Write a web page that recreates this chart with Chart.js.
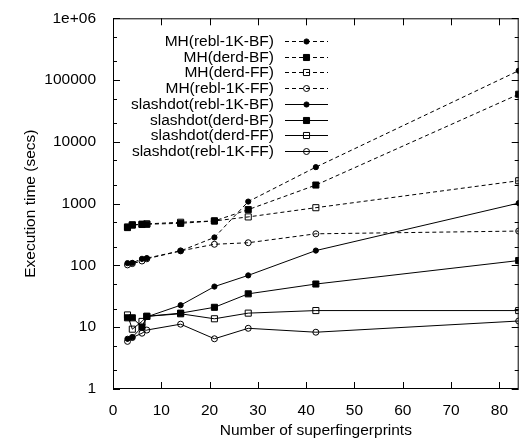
<!DOCTYPE html>
<html>
<head>
<meta charset="utf-8">
<script src="https://cdn.jsdelivr.net/npm/chart.js@4.4.1/dist/chart.umd.min.js"></script>
<style>
  html, body { margin: 0; padding: 0; background: #fff; }
</style>
</head>
<body>
<canvas id="chart" width="524" height="440"></canvas>
<script>
// superfingerprint counts on the x axis
const xValues = [3, 4, 6, 7, 14, 21, 28, 42, 84];

// execution time (secs), one list per series
const mhRebl1kBF = [109, 110, 128, 131, 172, 284, 1080, 3900, 142000];
const mhDerdBF   = [410, 450, 465, 465, 480, 525, 800, 2000, 59000];
const mhDerdFF   = [420, 455, 460, 470, 500, 525, 610, 860, 2350];
const mhRebl1kFF = [102, 107, 118, 128, 172, 220, 233, 325, 360];
const sdRebl1kBF = [6.5, 6.9, 10, 14.7, 22.7, 45.5, 69, 174, 1020];
const sdDerdBF   = [14.2, 14.2, 10.1, 15, 16.9, 21, 34.7, 50, 120];
const sdDerdFF   = [15.8, 9.3, 12.4, 15, 16.5, 13.7, 16.9, 18.6, 18.6];
const sdRebl1kFF = [5.9, 6.8, 8, 9, 11.2, 6.5, 9.6, 8.3, 12.6];

const seriesLabels = [
  'MH(rebl-1K-BF)', 'MH(derd-BF)', 'MH(derd-FF)', 'MH(rebl-1K-FF)',
  'slashdot(rebl-1K-BF)', 'slashdot(derd-BF)', 'slashdot(derd-FF)', 'slashdot(rebl-1K-FF)'
];
const seriesValues = [mhRebl1kBF, mhDerdBF, mhDerdFF, mhRebl1kFF, sdRebl1kBF, sdDerdBF, sdDerdFF, sdRebl1kFF];

const xTickValues = [0, 10, 20, 30, 40, 50, 60, 70, 80];
const yTickValues = [1, 10, 100, 1000, 10000, 100000, 1000000];
const yMinorFactors = [2, 5];

const FONT = '"Liberation Sans", Arial, Helvetica, sans-serif';

// marker look: filled circle, filled square, open square, open circle
const markers = [
  { pointStyle: 'circle', radius: 2.6, fill: '#000' },
  { pointStyle: 'rect', radius: 4.3, fill: '#000' },
  { pointStyle: 'rect', radius: 4.3, fill: 'rgba(0,0,0,0)' },
  { pointStyle: 'circle', radius: 3, fill: 'rgba(0,0,0,0)' }
];
const dash = [4, 3];

const datasets = seriesValues.map((vals, i) => {
  const m = markers[i % 4];
  return {
    label: seriesLabels[i],
    data: vals.map((v, j) => ({ x: xValues[j], y: v })),
    borderColor: '#000',
    borderWidth: 1,
    borderDash: i < 4 ? dash : [],
    pointStyle: m.pointStyle,
    pointRadius: m.radius,
    pointBackgroundColor: m.fill,
    pointBorderColor: '#000',
    pointBorderWidth: 1,
    tension: 0,
    fill: false
  };
});

// frame + inward ticks, gnuplot style
const framePlugin = {
  id: 'frame',
  afterDatasetsDraw(chart) {
    const { ctx, chartArea: a, scales } = chart;
    ctx.save();
    ctx.strokeStyle = '#000';
    ctx.lineWidth = 1;
    ctx.setLineDash([]);
    ctx.strokeRect(a.left + 0.5, a.top + 0.5, a.right - a.left - 1, a.bottom - a.top - 1);
    ctx.beginPath();
    xTickValues.forEach(v => {
      const x = Math.round(scales.x.getPixelForValue(v)) + 0.5;
      ctx.moveTo(x, a.bottom); ctx.lineTo(x, a.bottom - 7);
      ctx.moveTo(x, a.top); ctx.lineTo(x, a.top + 7);
    });
    yTickValues.forEach((v, k) => {
      const y = Math.round(scales.y.getPixelForValue(v)) + 0.5;
      ctx.moveTo(a.left, y); ctx.lineTo(a.left + 7, y);
      ctx.moveTo(a.right, y); ctx.lineTo(a.right - 7, y);
      if (k < yTickValues.length - 1) {
        yMinorFactors.forEach(f => {
          const ym = Math.round(scales.y.getPixelForValue(v * f)) + 0.5;
          ctx.moveTo(a.left, ym); ctx.lineTo(a.left + 4, ym);
          ctx.moveTo(a.right, ym); ctx.lineTo(a.right - 4, ym);
        });
      }
    });
    ctx.stroke();
    ctx.restore();
  }
};

// key inside the plot, labels right-aligned, sample on the right
const keyPlugin = {
  id: 'key',
  afterDraw(chart) {
    const { ctx } = chart;
    ctx.save();
    ctx.font = '15.5px ' + FONT;
    ctx.textAlign = 'right';
    ctx.textBaseline = 'middle';
    chart.data.datasets.forEach((ds, i) => {
      const y = Math.round(41 + i * 15.7) + 0.5;
      ctx.fillStyle = '#000';
      ctx.fillText(ds.label, 274, y);
      ctx.strokeStyle = '#000';
      ctx.lineWidth = 1;
      ctx.setLineDash(ds.borderDash);
      ctx.beginPath();
      ctx.moveTo(285, y); ctx.lineTo(328, y);
      ctx.stroke();
      ctx.setLineDash([]);
      ctx.fillStyle = ds.pointBackgroundColor;
      Chart.helpers.drawPoint(ctx, {
        pointStyle: ds.pointStyle, radius: ds.pointRadius, borderWidth: 1, rotation: 0
      }, 306.5, y);
    });
    ctx.restore();
  }
};

new Chart(document.getElementById('chart'), {
  type: 'line',
  data: { datasets },
  options: {
    responsive: false,
    animation: false,
    events: [],
    layout: { padding: { top: 14, right: 1, left: 0, bottom: 0 } },
    plugins: { legend: { display: false }, tooltip: { enabled: false } },
    scales: {
      x: {
        type: 'linear',
        min: 0,
        max: 84,
        grid: { display: false },
        border: { display: false },
        afterBuildTicks: s => { s.ticks = xTickValues.map(v => ({ value: v })); },
        afterFit: s => { s.height = 51; },
        ticks: { color: '#000', font: { family: FONT, size: 15.5 }, padding: 4, maxRotation: 0 },
        title: { display: true, text: 'Number of superfingerprints', color: '#000',
                 font: { family: FONT, size: 15.5 }, padding: { top: 0, bottom: 0 } }
      },
      y: {
        type: 'logarithmic',
        min: 1,
        max: 1000000,
        grid: { display: false },
        border: { display: false },
        afterBuildTicks: s => { s.ticks = yTickValues.map(v => ({ value: v })); },
        afterFit: s => { s.width = 113; },
        ticks: {
          color: '#000', font: { family: FONT, size: 15.5 }, padding: 9,
          callback: v => v === 1000000 ? '1e+06' : String(v)
        },
        title: { display: true, text: 'Execution time (secs)', color: '#000',
                 font: { family: FONT, size: 15.5 }, padding: { top: 21, bottom: 0 } }
      }
    }
  },
  plugins: [framePlugin, keyPlugin]
});
</script>
</body>
</html>
